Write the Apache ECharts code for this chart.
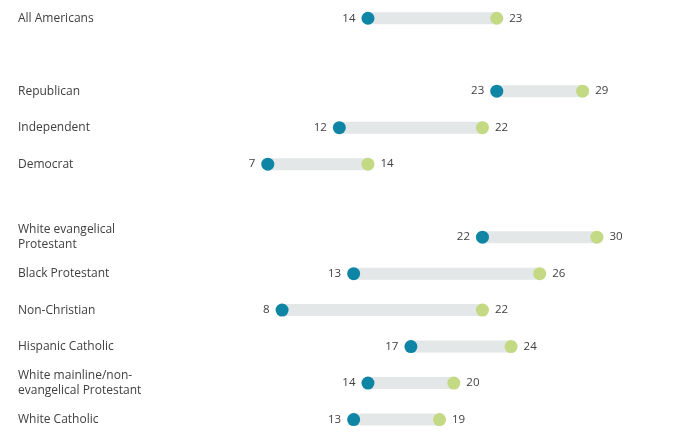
<!DOCTYPE html>
<html>
<head>
<meta charset="utf-8">
<script src="https://cdn.jsdelivr.net/npm/echarts@6/dist/echarts.min.js"></script>
<style>html,body{margin:0;padding:0;background:#fff}#c{width:683px;height:445px}</style>
</head>
<body>
<div id="c"></div>
<script>
const categories = ['All Americans', ' ', 'Republican', 'Independent', 'Democrat', '  ',
  'White evangelical\nProtestant', 'Black Protestant', 'Non-Christian', 'Hispanic Catholic',
  'White mainline/non-\nevangelical Protestant', 'White Catholic'];
const startValues = [14, null, 23, 12, 7, null, 22, 13, 8, 17, 14, 13];
const endValues = [23, null, 29, 22, 14, null, 30, 26, 22, 24, 20, 19];

const baseData = startValues.map(v => v == null ? '-' : v);
const rangeData = startValues.map((v, i) => v == null ? '-' : endValues[i] - v);

const chart = echarts.init(document.getElementById('c'));
const font = '"Open Sans", sans-serif';
chart.setOption({
  animation: false,
  grid: { left: 167.6, right: 14.5, top: -1.0, bottom: 445 - 437.8, containLabel: false },
  xAxis: { type: 'value', min: 0, max: 35, show: false },
  yAxis: {
    type: 'category', data: categories, inverse: true,
    axisLine: { show: false }, axisTick: { show: false }, splitLine: { show: false },
    axisLabel: { align: 'left', margin: 149.6, color: '#404040', fontSize: 12, fontFamily: font, lineHeight: 15 }
  },
  series: [
    { type: 'bar', stack: 'a', data: baseData, barWidth: 12, itemStyle: { color: 'transparent' }, silent: true },
    { type: 'bar', stack: 'a', data: rangeData, barWidth: 12, itemStyle: { color: '#e3e7e7' }, silent: true },
    { type: 'scatter', data: startValues.map((v, i) => v == null ? null : [v, i]).filter(d => d), symbolSize: 13,
      itemStyle: { color: '#0e85a5', opacity: 1 }, z: 5,
      label: { show: true, position: 'left', distance: 6, formatter: p => p.value[0], color: '#404040', fontSize: 11.5, fontFamily: font } },
    { type: 'scatter', data: endValues.map((v, i) => v == null ? null : [v, i]).filter(d => d), symbolSize: 13,
      itemStyle: { color: '#c3d983', opacity: 1 }, z: 5,
      label: { show: true, position: 'right', distance: 6, formatter: p => p.value[0], color: '#404040', fontSize: 11.5, fontFamily: font } }
  ]
});
</script>
</body>
</html>
